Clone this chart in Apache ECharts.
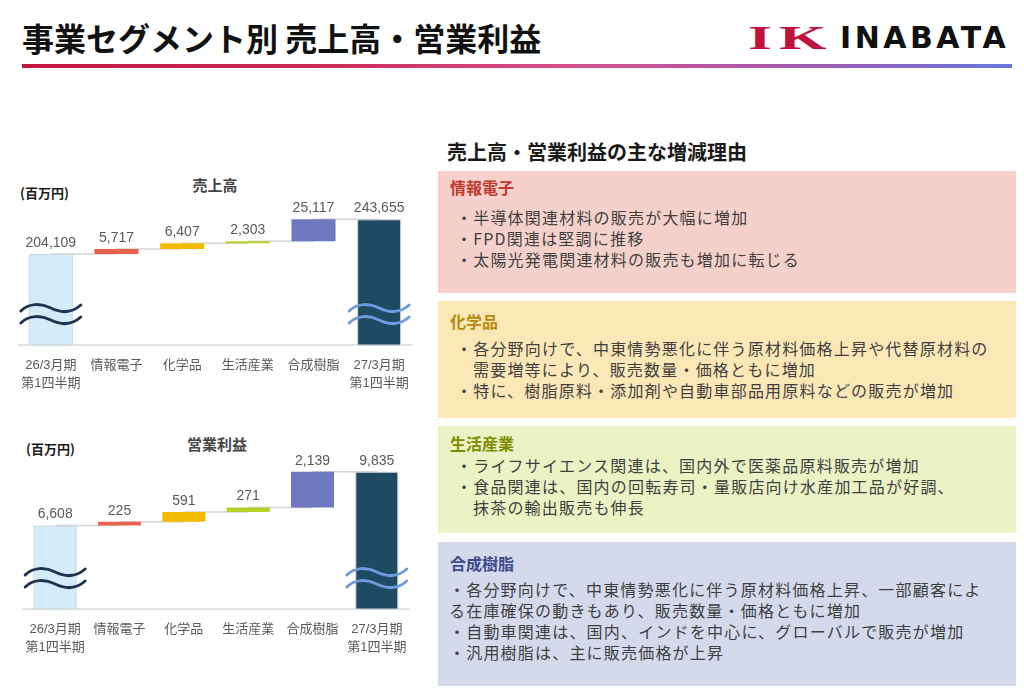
<!DOCTYPE html>
<html><head><meta charset="utf-8">
<script src="https://cdn.jsdelivr.net/npm/echarts@6/dist/echarts.min.js"></script>
<style>
html,body{margin:0;padding:0}
body{width:1024px;height:699px;overflow:hidden;background:#fff;font-family:'Noto Sans CJK JP',sans-serif;position:relative}
.abs{position:absolute;white-space:nowrap}
.panel{position:absolute;left:438px;width:578px}
.ptitle{position:absolute;left:450px;font-size:16px;font-weight:700;line-height:20px}
.body{position:absolute;font-size:16px;letter-spacing:1.2px;line-height:21px;color:#3f3f3f}
.ind{padding-left:17px}
.ctitle{position:absolute;transform:translate(-50%,-50%);font-size:15px;font-weight:700;color:#454545;white-space:nowrap}
.unit{position:absolute;transform:translateY(-50%);font-size:13px;font-weight:700;color:#1a1a1a;white-space:nowrap}
</style></head><body>
<div class="abs" style="left:22px;top:16px;font-size:32px;font-weight:700;color:#111;line-height:42px">事業セグメント別 売上高・営業利益</div>
<div class="abs" style="left:748px;top:15px;font-family:'Liberation Serif',serif;font-weight:700;font-size:34px;line-height:46px;letter-spacing:4px;color:#C0123F;transform:scaleX(1.8);transform-origin:left center">IK</div>
<div class="abs" style="left:840px;top:17px;font-family:'DejaVu Sans',sans-serif;font-weight:700;font-size:30px;line-height:42px;letter-spacing:3.5px;color:#111">INABATA</div>
<div class="abs" style="left:22px;top:64px;width:990px;height:4px;background:linear-gradient(to right,#C2163E 0%,#CB2B58 30%,#D6508A 55%,#A65AAE 78%,#6676DE 100%)"></div>

<div class="unit" style="left:20px;top:192px">(百万円)</div>
<div class="ctitle" style="left:215px;top:184px">売上高</div>
<div class="unit" style="left:26px;top:448px">(百万円)</div>
<div class="ctitle" style="left:217px;top:443px">営業利益</div>

<div id="chart" style="position:absolute;left:0;top:0;width:430px;height:699px"></div>

<div class="abs" style="left:447px;top:139px;font-size:20px;font-weight:700;line-height:26px;color:#1a1a1a">売上高・営業利益の主な増減理由</div>

<div class="panel" style="top:171px;height:122px;background:#F6D1CC"></div>
<div class="ptitle" style="top:177px;color:#C0392B">情報電子</div>
<div class="body" style="left:456px;top:207px">
<div>・半導体関連材料の販売が大幅に増加</div>
<div>・FPD関連は堅調に推移</div>
<div>・太陽光発電関連材料の販売も増加に転じる</div>
</div>

<div class="panel" style="top:301px;height:117px;background:#FCE7B7"></div>
<div class="ptitle" style="top:311px;color:#B5890A">化学品</div>
<div class="body" style="left:456px;top:338px">
<div>・各分野向けで、中東情勢悪化に伴う原材料価格上昇や代替原材料の</div>
<div class="ind">需要増等により、販売数量・価格ともに増加</div>
<div>・特に、樹脂原料・添加剤や自動車部品用原料などの販売が増加</div>
</div>

<div class="panel" style="top:426px;height:107px;background:#EBF3C4"></div>
<div class="ptitle" style="top:433px;color:#7D8C00">生活産業</div>
<div class="body" style="left:456px;top:455px">
<div>・ライフサイエンス関連は、国内外で医薬品原料販売が増加</div>
<div>・食品関連は、国内の回転寿司・量販店向け水産加工品が好調、</div>
<div class="ind">抹茶の輸出販売も伸長</div>
</div>

<div class="panel" style="top:542px;height:144px;background:#D5D9EC"></div>
<div class="ptitle" style="top:553px;color:#3D4A8C">合成樹脂</div>
<div class="body" style="left:449px;top:579px">
<div>・各分野向けで、中東情勢悪化に伴う原材料価格上昇、一部顧客によ</div>
<div>る在庫確保の動きもあり、販売数量・価格ともに増加</div>
<div>・自動車関連は、国内、インドを中心に、グローバルで販売が増加</div>
<div>・汎用樹脂は、主に販売価格が上昇</div>
</div>

<script>
const categories = ['26/3月期\n第1四半期', '情報電子', '化学品', '生活産業', '合成樹脂', '27/3月期\n第1四半期'];
const salesValues = [204109, 5717, 6407, 2303, 25117, 243655];
const profitValues = [6608, 225, 591, 271, 2139, 9835];
const barColors = ['#D2ECFA', '#E8634F', '#F2BA00', '#B9D028', '#6E78BE', '#1E4A64'];
const breakColors = ['#1F3451', '#6F9CDF'];
const salesAxis = { min: 100000, max: 260000 };
const profitAxis = { min: 1600, max: 10000 };

function waterfall(values) {
  const bases = [], tops = [];
  let cum = 0;
  values.forEach((v, i) => {
    if (i === 0 || i === values.length - 1) { bases.push(0); tops.push(v); cum = v; }
    else { bases.push(cum); cum += v; tops.push(cum); }
  });
  return { bases, tops };
}

const fontNum = "'Liberation Sans','Noto Sans CJK JP',sans-serif";

function seriesFor(values, axisCfg, g) {
  const wf = waterfall(values);
  const last = values.length - 1;
  return [
    {
      type: 'line', xAxisIndex: g, yAxisIndex: g, step: 'end', data: wf.tops,
      symbol: 'none', silent: true, z: 1,
      lineStyle: { color: '#D3D3D3', width: 1.5 }
    },
    {
      type: 'bar', xAxisIndex: g, yAxisIndex: g, stack: 'w' + g, data: wf.bases,
      barWidth: g === 0 ? 44 : 43, silent: true, z: 2,
      itemStyle: { color: 'rgba(0,0,0,0)' }
    },
    {
      type: 'bar', xAxisIndex: g, yAxisIndex: g, stack: 'w' + g, z: 3,
      barWidth: g === 0 ? 44 : 43,
      data: values.map((v, i) => ({
        value: v,
        itemStyle: (i === 0 || i === last)
          ? { color: barColors[i], borderColor: '#CFD6DA', borderWidth: 1 }
          : { color: barColors[i], borderWidth: 0 }
      })),
      label: {
        show: true, position: 'top', distance: 4, color: '#595959', fontSize: 14,
        fontFamily: fontNum,
        formatter: p => values[p.dataIndex].toLocaleString('en-US')
      }
    },
    {
      type: 'custom', xAxisIndex: g, yAxisIndex: g, z: 5, silent: true, clip: false,
      data: [[0, axisCfg.min, 0], [last, axisCfg.min, 1]],
      renderItem: (params, api) => {
        const p = api.coord([api.value(0), api.value(1)]);
        const color = breakColors[api.value(2)];
        const x = p[0];
        const mk = (y) => ({
          type: 'path',
          shape: { pathData: `M ${x - 30} ${y + 3} C ${x - 22} ${y - 5}, ${x - 10} ${y - 5}, ${x} ${y} S ${x + 20} ${y + 6}, ${x + 30} ${y - 3}` },
          style: { fill: 'none', stroke: color, lineWidth: 3, lineCap: 'round' }
        });
        return { type: 'group', children: [mk(p[1] - 37), mk(p[1] - 25)] };
      }
    }
  ];
}

const xAxisBase = {
  type: 'category', data: categories,
  axisLine: { lineStyle: { color: '#D9D9D9', width: 1.5 } },
  axisTick: { show: false },
  axisLabel: { interval: 0, color: '#595959', fontSize: 13, lineHeight: 18, margin: 11, fontFamily: fontNum }
};

const chart = echarts.init(document.getElementById('chart'), null, { renderer: 'canvas' });
chart.setOption({
  animation: false,
  grid: [
    { left: 18, width: 394, top: 205, height: 140 },
    { left: 23, width: 386, top: 469, height: 140 }
  ],
  xAxis: [
    Object.assign({ gridIndex: 0 }, xAxisBase),
    Object.assign({ gridIndex: 1 }, xAxisBase)
  ],
  yAxis: [
    { type: 'value', gridIndex: 0, min: salesAxis.min, max: salesAxis.max, show: false },
    { type: 'value', gridIndex: 1, min: profitAxis.min, max: profitAxis.max, show: false }
  ],
  series: [].concat(seriesFor(salesValues, salesAxis, 0), seriesFor(profitValues, profitAxis, 1))
});
</script>
</body></html>
